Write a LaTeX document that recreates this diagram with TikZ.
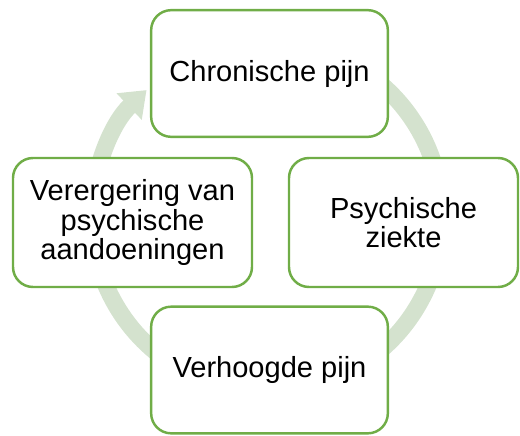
\documentclass[tikz,border=0pt]{standalone}
\usepackage{fontspec}
\setmainfont{Liberation Sans}
\usepackage{tikz}
\usetikzlibrary{arrows.meta,positioning}
\definecolor{kadergroen}{RGB}{112,173,71}
\definecolor{ringgroen}{RGB}{212,226,206}

\begin{document}
\begin{tikzpicture}[
    stap/.style={draw=kadergroen, line width=2.1pt, fill=white, rectangle,
      rounded corners=0.6cm, minimum width=7.1cm, minimum height=3.8cm,
      align=center, font=\fontsize{24.8}{24.8}\selectfont}]
  \useasboundingbox (-8.01,-6.54) rectangle (7.59,6.51);
  % Cycle arrow
  \draw[ringgroen, line width=0.51cm, -{Triangle[width=1.05cm,length=0.72cm]}]
    (60:5.25) arc[start angle=60, end angle=-226.5, radius=5.25];
  % Steps
  \node[stap] (chronisch) at (0.075,4.305) {Chronische pijn};
  \node[stap, minimum width=6.87cm, minimum height=3.87cm] (ziekte) at (4.095,-0.165) {Psychische\\ziekte};
  \node[stap] (verhoogd) at (0.075,-4.59) {Verhoogde pijn};
  \node[stap, minimum width=7.17cm, minimum height=3.87cm] (verergering) at (-4.035,-0.165) {Verergering van\\psychische\\aandoeningen};
\end{tikzpicture}
\end{document}
